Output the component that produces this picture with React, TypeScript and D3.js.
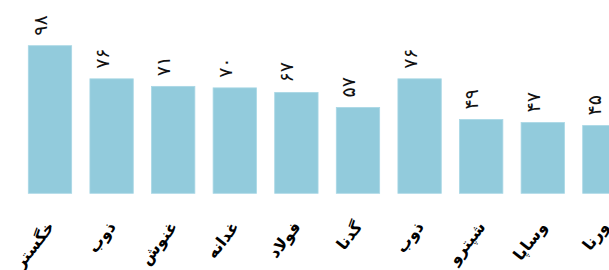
import React from "react";
import * as d3 from "d3";

const categories = ["خگستر", "ذوب", "غنوش", "غدانه", "فولاد", "گدنا", "ذوب ", "شپترو", "وساپا", "ورنا"];
const values = [98, 76, 71, 70, 67, 57, 76, 49, 47, 45];
const valueLabels = ["۹۸", "۷۶", "۷۱", "۷۰", "۶۷", "۵۷", "۷۶", "۴۹", "۴۷", "۴۵"];

const W = 609;
const H = 270;

export default function App() {
  const x = d3
    .scaleBand<number>()
    .domain(d3.range(categories.length))
    .range([28.3 - 61.6 * 0.148, 28.3 - 61.6 * 0.148 + 61.6 * categories.length])
    .paddingInner(0.296)
    .paddingOuter(0.148);
  const y = d3.scaleLinear().domain([0, 98]).range([193.3, 45.7]);

  return (
    <svg
      width={W}
      height={H}
      style={{ position: "absolute", left: 0, top: 0, background: "#fff" }}
      fontFamily="DejaVu Sans"
    >
      <rect x={0} y={0} width={W} height={H} fill="#fff" />
      {values.map((v, i) => {
        const bx = x(i)!;
        const bw = x.bandwidth();
        const cx = bx + bw / 2;
        return (
          <g key={i}>
            <rect
              x={bx}
              y={y(v)}
              width={bw}
              height={y(0) - y(v)}
              fill="#92cbdc"
              stroke="#a9d7e5"
              strokeWidth={0.8}
            />
            <text
              transform={`translate(${cx - 3},${y(v) - 10}) rotate(-90)`}
              fontSize={19}
              letterSpacing={2}
              fill="#111"
              textAnchor="start"
            >
              {valueLabels[i]}
            </text>
            <text
              transform={`translate(${cx + 5},227) rotate(-52)`}
              fontSize={16}
              fontWeight="bold"
              fill="#000"
              textAnchor="end"
            >
              {categories[i]}
            </text>
          </g>
        );
      })}
    </svg>
  );
}
